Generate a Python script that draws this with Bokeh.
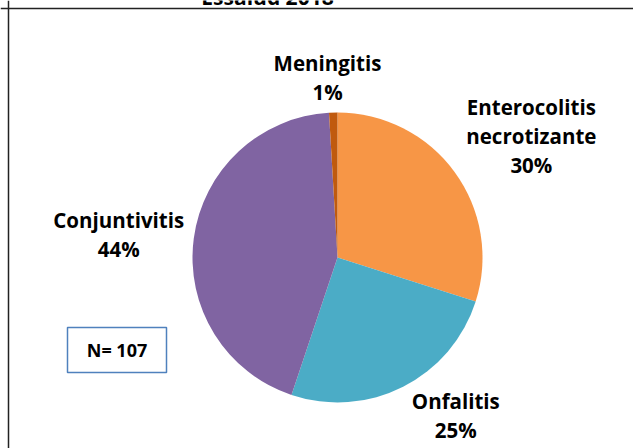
import math
from bokeh.plotting import figure
from bokeh.models import Range1d, Span, ColumnDataSource
from bokeh.core.properties import value
from bokeh.embed import file_html
from bokeh.resources import INLINE

# ---- data ----
title_text = "Essalud 2018"
categories = ["Enterocolitis\nnecrotizante", "Onfalitis", "Conjuntivitis", "Meningitis"]
counts = [32, 27, 47, 1]
percent_labels = ["30%", "25%", "44%", "1%"]
colors = ["#F79646", "#4BACC6", "#8064A2", "#C05A0E"]
n_label = "N= 107"

# ---- layout ----
W, H = 633, 448
CX, CY = 337, 191          # pie centre (data units = screen px)
R = 145
FONT = "Open Sans"
FS = "20.5px"
LINE = 29
# label placement: radial distance and angle nudge (deg) per slice
label_dist = [229, 197, 220, 180]
label_nudge = [4, -10, -1.5, -1.5]

p = figure(width=W, height=H, output_backend="svg", toolbar_location=None,
           x_range=Range1d(0, W), y_range=Range1d(0, H), min_border=0)
p.axis.visible = False
p.grid.visible = False
p.outline_line_color = None
p.background_fill_color = "white"

total = sum(counts)
starts, ends, mids = [], [], []
acc = 0.0
for c in counts:
    a0 = acc / total * 360.0
    acc += c
    a1 = acc / total * 360.0
    starts.append(a0); ends.append(a1); mids.append((a0 + a1) / 2)

# convert clockwise-from-top to bokeh anticlockwise-from-east radians
def to_rad(deg):
    return math.radians(90.0 - deg)

src = ColumnDataSource(dict(
    x=[CX] * len(counts), y=[CY] * len(counts),
    start=[to_rad(e) for e in ends], end=[to_rad(s) for s in starts],
    color=colors))
p.wedge(x="x", y="y", radius=R, radius_units="screen",
        start_angle="start", end_angle="end", direction="anticlock",
        fill_color="color", line_color=None, source=src)

# labels
for i, cat in enumerate(categories):
    th = math.radians(mids[i] + label_nudge[i])
    lx = CX + label_dist[i] * math.sin(th)
    ly = CY + label_dist[i] * math.cos(th)
    lines = cat.split("\n") + [percent_labels[i]]
    n = len(lines)
    for j, t in enumerate(lines):
        yy = ly + ((n - 1) / 2 - j) * LINE
        p.text(x=[lx], y=[yy], text=[t], text_font=value(FONT), text_font_size=FS,
               text_font_style="bold", text_color="#000000",
               text_align="center", text_baseline="middle")

# N box
box_l, box_r, box_t, box_b = 67, 166, H - 327, H - 372
p.quad(left=[box_l], right=[box_r], top=[box_t], bottom=[box_b],
       fill_color="white", line_color="#4F81BD", line_width=1.5)
p.text(x=[(box_l + box_r) / 2], y=[(box_t + box_b) / 2], text=[n_label],
       text_font=value(FONT), text_font_size="18px", text_font_style="bold",
       text_color="#000000", text_align="center", text_baseline="middle")

# title (only its lower edge is visible above the chart area, as in the reference)
p.text(x=[267], y=[H + 4], text=[title_text], text_font=value(FONT),
       text_font_size="21px", text_font_style="bold", text_color="#000000",
       text_align="center", text_baseline="alphabetic")

# chart area border (top and left visible)
p.add_layout(Span(location=8, dimension="height", line_color="#222222", line_width=1.5))
p.add_layout(Span(location=H - 8, dimension="width", line_color="#222222", line_width=1.5))

open("out.html", "w").write(file_html(p, INLINE))
